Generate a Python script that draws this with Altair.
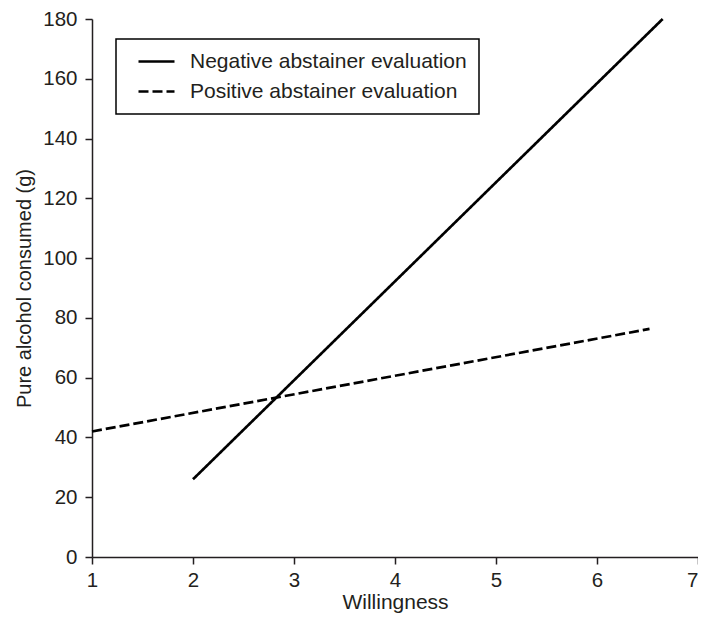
import altair as alt
import pandas as pd

series = ["Negative abstainer evaluation", "Positive abstainer evaluation"]
neg_x = [2, 6.65]
neg_y = [26, 180]
pos_x = [1, 6.52]
pos_y = [42, 76.3]
x_ticks = [1, 2, 3, 4, 5, 6, 7]
y_ticks = [0, 20, 40, 60, 80, 100, 120, 140, 160, 180]

df = pd.DataFrame({
    "Willingness": neg_x + pos_x,
    "alcohol": neg_y + pos_y,
    "series": [series[0]] * len(neg_x) + [series[1]] * len(pos_x),
})

FONT = "Liberation Sans"
INK = "#231f20"

chart = alt.Chart(df).mark_line(color="black", strokeWidth=2.7).encode(
    x=alt.X("Willingness:Q",
            scale=alt.Scale(domain=[1, 7], nice=False, zero=False),
            axis=alt.Axis(title="Willingness", values=x_ticks, format="d",
                          labelFlush=False,
                          labelAlign=alt.expr("datum.value == 7 ? 'right' : 'center'"),
                          labelPadding=6, titlePadding=1, titleFontSize=21)),
    y=alt.Y("alcohol:Q",
            scale=alt.Scale(domain=[0, 180], nice=False),
            axis=alt.Axis(title="Pure alcohol consumed (g)", values=y_ticks,
                          format="d", labelPadding=8, titlePadding=8,
                          titleFontSize=20)),
    strokeDash=alt.StrokeDash(
        "series:N",
        scale=alt.Scale(domain=series, range=[[1, 0], [10, 4]]),
        legend=alt.Legend(
            title=None, orient="none", legendX=24, legendY=20,
            symbolType="M-2,0H2", symbolSize=324, symbolStrokeWidth=2.7,
            symbolStrokeColor="black", symbolFillColor="transparent",
            symbolOffset=18, labelOffset=23,
            padding=12, rowPadding=8, strokeColor="black", fillColor="white",
            labelFont=FONT, labelFontSize=21, labelColor=INK,
            labelLimit=0,
        ),
    ),
    detail="series:N",
).properties(
    width=606, height=538,
    padding={"left": 84, "top": 11, "right": 0, "bottom": 57},
    autosize="none",
).configure_view(stroke=None).configure_axis(
    grid=False,
    domainColor=INK, domainWidth=1.5,
    tickColor=INK, tickWidth=1.5, tickSize=7,
    labelFont=FONT, labelFontSize=20.5, labelColor=INK,
    titleFont=FONT, titleColor=INK, titleFontWeight="normal",
).configure_legend(strokeWidth=1.5)

chart.save("out.html", embed_options={"renderer": "svg", "actions": False})
